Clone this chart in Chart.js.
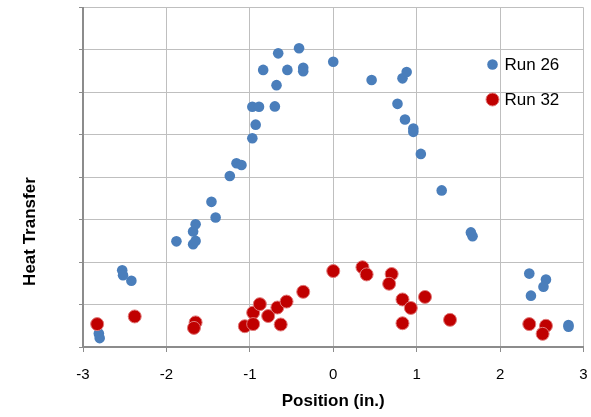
<!DOCTYPE html>
<html>
<head>
<meta charset="utf-8">
<script src="https://cdn.jsdelivr.net/npm/chart.js@4/dist/chart.umd.min.js"></script>
<style>
  html, body { margin: 0; padding: 0; background: #fff; }
  #wrap { width: 591px; height: 417px; }
</style>
</head>
<body>
<div id="wrap"><canvas id="chart" width="591" height="417"></canvas></div>
<script>
// Run 26 measurements: position (in.) and heat transfer (arbitrary units)
const run26X = [-2.81, -2.80, -2.53, -2.52, -2.42, -1.88, -1.68, -1.65, -1.68, -1.65,
  -1.41, -1.46, -1.24, -1.16, -1.10, -0.97, -0.93, -0.97, -0.89, -0.70,
  -0.68, -0.84, -0.55, -0.66, -0.41, -0.36, -0.36, 0.00, 0.46, 0.83,
  0.88, 0.77, 0.86, 0.96, 0.96, 1.05, 1.30, 1.65, 1.67, 2.35,
  2.55, 2.52, 2.37, 2.82, 2.82];
const run26Y = [0.32, 0.21, 1.81, 1.69, 1.56, 2.49, 2.42, 2.50, 2.72, 2.89,
  3.05, 3.42, 4.03, 4.33, 4.29, 4.92, 5.24, 5.66, 5.66, 5.67,
  6.17, 6.53, 6.53, 6.92, 7.04, 6.58, 6.50, 6.72, 6.29, 6.33,
  6.48, 5.73, 5.36, 5.15, 5.07, 4.55, 3.69, 2.70, 2.61, 1.73,
  1.59, 1.42, 1.21, 0.52, 0.48];

// Run 32 measurements
const run32X = [-2.83, -2.38, -1.65, -1.67, -1.06, -0.96, -0.96, -0.88, -0.78, -0.67,
  -0.63, -0.56, -0.36, 0.00, 0.35, 0.40, 0.70, 0.67, 0.83, 0.93,
  1.10, 0.83, 1.40, 2.35, 2.55, 2.51];
const run32Y = [0.54, 0.72, 0.58, 0.45, 0.49, 0.81, 0.54, 1.01, 0.73, 0.93,
  0.53, 1.07, 1.30, 1.79, 1.88, 1.71, 1.72, 1.49, 1.12, 0.92,
  1.18, 0.56, 0.64, 0.54, 0.50, 0.31];

const xTicks = [-3, -2, -1, 0, 1, 2, 3];
const seriesNames = ['Run 26', 'Run 32'];

const BLUE = '#4a7ebb';
const RED = '#c00000';
const FONT = "'Liberation Sans', Arial, sans-serif";

function toPoints(xs, ys) {
  return xs.map((x, i) => ({ x, y: ys[i] }));
}

// Legend drawn inside the plot area, top right
const insideLegend = {
  id: 'insideLegend',
  afterDatasetsDraw(chart) {
    const { ctx, chartArea } = chart;
    const x = chartArea.right - 91;
    let y = chartArea.top + 57;
    ctx.save();
    ctx.font = '17px ' + FONT;
    ctx.textBaseline = 'middle';
    chart.data.datasets.forEach(ds => {
      ctx.beginPath();
      ctx.arc(x, y, ds.pointRadius, 0, Math.PI * 2);
      ctx.fillStyle = ds.backgroundColor;
      ctx.fill();
      if (ds.borderWidth) {
        ctx.lineWidth = ds.borderWidth;
        ctx.strokeStyle = ds.borderColor;
        ctx.stroke();
      }
      ctx.fillStyle = '#000';
      ctx.fillText(ds.label, x + 12, y + 1);
      y += 35;
    });
    ctx.restore();
  }
};

// Vertical axis title, sits a bit below the middle of the axis
const yTitle = {
  id: 'yTitle',
  afterDraw(chart) {
    const { ctx, chartArea } = chart;
    ctx.save();
    ctx.translate(30, chartArea.top + (chartArea.bottom - chartArea.top) * 0.66);
    ctx.rotate(-Math.PI / 2);
    ctx.font = 'bold 17px ' + FONT;
    ctx.fillStyle = '#000';
    ctx.textAlign = 'center';
    ctx.textBaseline = 'middle';
    ctx.fillText('Heat Transfer', 0, 0);
    ctx.restore();
  }
};

new Chart(document.getElementById('chart').getContext('2d'), {
  type: 'scatter',
  data: {
    datasets: [
      {
        label: seriesNames[0],
        data: toPoints(run26X, run26Y),
        backgroundColor: BLUE,
        borderColor: BLUE,
        borderWidth: 0,
        pointRadius: 5.3,
        order: 1
      },
      {
        label: seriesNames[1],
        data: toPoints(run32X, run32Y),
        backgroundColor: RED,
        borderColor: '#e07a7a',
        borderWidth: 1,
        pointRadius: 6.5,
        order: 0
      }
    ]
  },
  options: {
    responsive: false,
    animation: false,
    layout: { padding: { top: 7, right: 6, left: 0, bottom: 0 } },
    plugins: {
      legend: { display: false },
      tooltip: { enabled: false }
    },
    scales: {
      x: {
        type: 'linear',
        min: -3,
        max: 3,
        afterBuildTicks: scale => { scale.ticks = xTicks.map(v => ({ value: v })); },
        afterFit: scale => {
          scale.height = 70;
          // end labels fit inside the outer margins, no extra room needed
          scale.paddingLeft = 0;
          scale.paddingRight = 0;
        },
        ticks: {
          color: '#000',
          font: { family: FONT, size: 15 },
          padding: 14
        },
        grid: { color: '#bfbfbf', lineWidth: 1, tickLength: 5, tickColor: '#8c8c8c' },
        border: { color: '#8c8c8c', width: 2 },
        title: {
          display: true,
          text: 'Position (in.)',
          color: '#000',
          font: { family: FONT, size: 17, weight: 'bold' },
          padding: { top: 0, bottom: 5 }
        }
      },
      y: {
        type: 'linear',
        min: 0,
        max: 8,
        afterFit: scale => { scale.width = 83; },
        ticks: { display: false, stepSize: 1 },
        grid: { color: '#bfbfbf', lineWidth: 1, tickLength: 4, tickColor: '#8c8c8c' },
        border: { color: '#8c8c8c', width: 2 }
      }
    }
  },
  plugins: [insideLegend, yTitle]
});
</script>
</body>
</html>
